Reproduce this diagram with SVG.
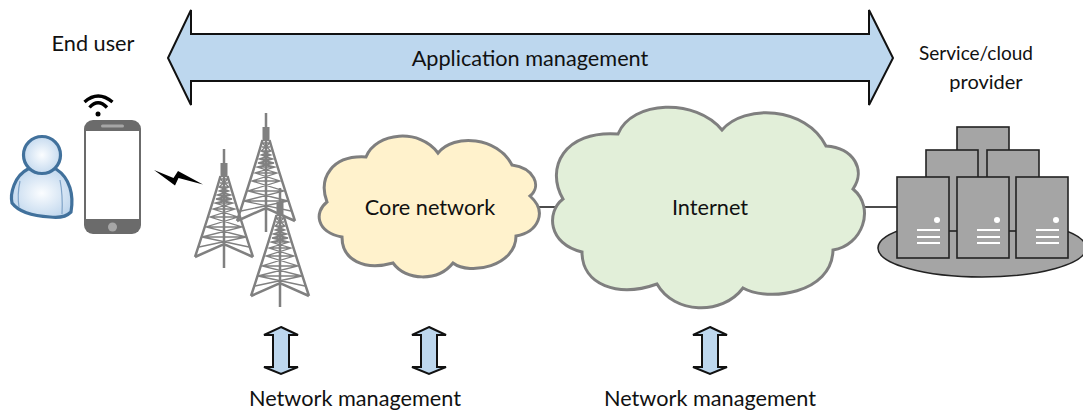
<svg xmlns="http://www.w3.org/2000/svg" width="1083" height="412" viewBox="0 0 1083 412">
<style>
text{font-family:"Lato","Liberation Sans",sans-serif;font-size:21.700px;fill:#111;text-anchor:middle}
.small{font-size:20px}
.arrow{fill:#bdd7ee;stroke:#111;stroke-width:2;stroke-linejoin:miter}
.cloud{stroke:#7f7f7f;stroke-width:3;stroke-linejoin:miter}
.link{stroke:#111;stroke-width:1.500;fill:none}
.srv{fill:#a5a5a5;stroke:#222;stroke-width:1.600}
.srv-line{stroke:#fff;stroke-width:2}
.tw{stroke:#808080;fill:none;stroke-width:1.300}
.tw-b{stroke:#808080;fill:none;stroke-width:2.500}
.wifi{stroke:#000;stroke-width:3.300;fill:none}
</style>
<defs>
<radialGradient id="skin" cx="50%" cy="50%" r="60%"><stop offset="0" stop-color="#fbfdff"/><stop offset="1" stop-color="#bcd4ec"/></radialGradient>
<g id="tower">
<path class="tw-b" d="M0,0V119M-29,108Q-10,50 -3.500,27M29,108Q10,50 3.500,27M-29,108L0,95L29,108"/>
<rect x="-3.500" y="14" width="7" height="14" fill="#808080"/>
<path class="tw" d="M-4,30H4M-4,34H4M-5,38H5M-5,42H5M-7,46H7M-8,50H8M-9,54H9M-11,60H11M-14,68H14M-18,78H18M-22,88H22M-4,30L5,38L-5,42L7,46L-8,50L9,54L-11,60L14,68L-18,78L22,88L-25,98M4,30L-5,38L5,42L-7,46L8,50L-9,54L11,60L-14,68L18,78L-22,88L25,98"/>
</g>
<g id="smallarrow"><path class="arrow" d="M0,0L17,8H8V40H17L0,47L-17,40H-8V8H-17Z"/></g>
<g id="server"><rect class="srv" width="52" height="81"/><circle cx="40" cy="43" r="3" fill="#fff"/><path class="srv-line" d="M20,53H43M20,60H43M20,66H43"/></g>
</defs>
<g id="connectors">
<path class="link" d="M535,207H560"/>
<path class="link" d="M862,207H897"/>
</g>
<g id="application-management">
<path class="arrow" d="M168,58L191,10V34H869V10L893,58L869,105V81H191V105Z"/>
<text x="530" y="66">Application management</text>
</g>
<g id="end-user-label"><text x="93" y="51">End user</text></g>
<g id="provider-label"><text class="small" x="976" y="60" textLength="114" lengthAdjust="spacingAndGlyphs">Service/cloud</text><text class="small" x="986" y="89">provider</text></g>
<g id="user">
<path d="M28,169C14,176 10,194 12,203C18,211 32,216 50,217C58,218 66,217 71,212C74,195 70,178 56,169Z" fill="url(#skin)" stroke="#41719c" stroke-width="3.200"/>
<path d="M20,181Q17,195 19,207M60,180Q63,195 62,214" fill="none" stroke="#7fa3c7" stroke-width="1.200"/>
<circle cx="42" cy="155" r="18.500" fill="url(#skin)" stroke="#41719c" stroke-width="3.200"/>
</g>
<g id="phone">
<rect x="84" y="120" width="57" height="114" rx="9" fill="#6b6b6b"/>
<rect x="86" y="131" width="53" height="88" fill="#fff"/>
<rect x="101" y="124.500" width="23" height="3" rx="1.500" fill="#a6a6a6"/>
<circle cx="112.500" cy="227" r="4.500" fill="#a6a6a6"/>
<path class="wifi" d="M84.500,102Q98,90 112.500,102M89.500,107.500Q98,98 107,107.500"/>
<circle cx="98" cy="114" r="2.500" fill="#000"/>
</g>
<g id="wireless-link"><polygon points="154,170 175,185.500 178.500,178 203,184.500 178,171 173.500,178" fill="#000"/></g>
<g id="towers">
<use href="#tower" x="224" y="149"/>
<use href="#tower" x="266" y="113"/>
<use href="#tower" x="280" y="188"/>
</g>
<g id="core-network">
<path class="cloud" fill="#fff2cc" stroke-width="3.400" d="M366,157C376,132 420,128 438,153C454,133 498,137 512,165C534,168 542,186 530,196C548,212 538,232 516,236C516,266 470,276 453,263C438,282 406,281 393,263C364,271 342,260 342,237C316,232 314,212 327,202C318,178 332,155 366,157Z"/>
<text x="430" y="215">Core network</text>
</g>
<g id="internet">
<path class="cloud" fill="#e2efd9" d="M618,134C632,100 696,98 722,130C744,104 806,106 826,146C854,148 866,170 853,189C876,208 862,246 833,250C832,294 768,302 743,288C722,316 674,314 657,284C618,298 582,285 582,252C548,244 546,212 563,199C545,168 564,130 618,134Z"/>
<text x="710" y="215">Internet</text>
</g>
<g id="servers">
<ellipse cx="982" cy="248" rx="104" ry="29" class="srv"/>
<rect class="srv" x="957" y="127" width="52" height="60"/>
<rect class="srv" x="926" y="150" width="52" height="81"/>
<rect class="srv" x="987" y="150" width="52" height="81"/>
<use href="#server" x="897" y="177"/>
<use href="#server" x="957" y="177"/>
<use href="#server" x="1016" y="177"/>
</g>
<g id="net-mgmt-left">
<use href="#smallarrow" x="281" y="327"/>
<use href="#smallarrow" x="429" y="327"/>
<text x="355" y="406">Network management</text>
</g>
<g id="net-mgmt-right">
<use href="#smallarrow" x="710" y="327"/>
<text x="710" y="406">Network management</text>
</g>
</svg>
